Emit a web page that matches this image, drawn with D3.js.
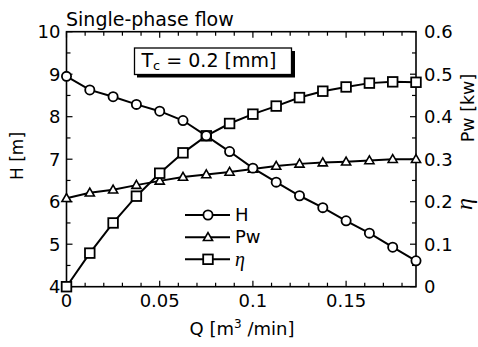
<!DOCTYPE html>
<html><head><meta charset="utf-8">
<script src="https://cdn.jsdelivr.net/npm/d3@7"></script>
<style>body{margin:0;background:#fff}svg{display:block;font-family:"DejaVu Sans",sans-serif}</style>
</head><body><svg id="c" width="478" height="347"></svg>
<script>
const Q = [0,0.0125,0.025,0.0375,0.05,0.0625,0.075,0.0875,0.1,0.1125,0.125,0.1375,0.15,0.1625,0.175,0.1875];
const H = [8.95,8.63,8.47,8.29,8.13,7.91,7.55,7.18,6.79,6.46,6.14,5.86,5.55,5.26,4.93,4.61];
const Pw = [0.208,0.221,0.228,0.239,0.249,0.258,0.264,0.27,0.277,0.284,0.289,0.292,0.294,0.297,0.3,0.3];
const eta = [0,0.079,0.15,0.213,0.267,0.315,0.355,0.384,0.406,0.425,0.445,0.46,0.47,0.479,0.482,0.481];
const xTicks = [0,0.05,0.1,0.15];
const yLeftTicks = [4,5,6,7,8,9,10];
const yRightTicks = [0,0.1,0.2,0.3,0.4,0.5,0.6];

const svg = d3.select("#c");
const L=66.5,R=416,T=31.7,B=286.7;
const x = d3.scaleLinear().domain([0,0.1875]).range([L,R]);
const yL = d3.scaleLinear().domain([4,10]).range([B,T]);
const yR = d3.scaleLinear().domain([0,0.6]).range([B,T]);

const g = svg.append("g");
g.append("rect").attr("x",L).attr("y",T).attr("width",R-L).attr("height",B-T).attr("fill","none").attr("stroke","#000").attr("stroke-width",1.6);

// ticks
d3.range(0,0.1876,0.01).forEach(v=>{
  const major = xTicks.some(t=>Math.abs(t-v)<1e-6);
  const len = major?6:4;
  g.append("line").attr("x1",x(v)).attr("x2",x(v)).attr("y1",B).attr("y2",B-len).attr("stroke","#000").attr("stroke-width",1.2);
  g.append("line").attr("x1",x(v)).attr("x2",x(v)).attr("y1",T).attr("y2",T+len).attr("stroke","#000").attr("stroke-width",1.2);
});
d3.range(4,10.01,0.5).forEach(v=>{
  const major = Math.abs(v-Math.round(v))<1e-6; const len=major?6:4;
  g.append("line").attr("x1",L).attr("x2",L+len).attr("y1",yL(v)).attr("y2",yL(v)).attr("stroke","#000").attr("stroke-width",1.2);
});
d3.range(0,0.601,0.05).forEach(v=>{
  const major = Math.abs(v*10-Math.round(v*10))<1e-6; const len=major?6:4;
  g.append("line").attr("x1",R).attr("x2",R-len).attr("y1",yR(v)).attr("y2",yR(v)).attr("stroke","#000").attr("stroke-width",1.2);
});

const fs = 18;
xTicks.forEach(v=>{
  g.append("text").attr("x",x(v)).attr("y",B+20).attr("text-anchor","middle").attr("font-size",fs).text(v===0?"0":String(v));
});
yLeftTicks.forEach(v=>{
  g.append("text").attr("x",L-6).attr("y",yL(v)+6.5).attr("text-anchor","end").attr("font-size",fs).text(v);
});
yRightTicks.forEach(v=>{
  g.append("text").attr("x",R+8).attr("y",yR(v)+6.5).attr("text-anchor","start").attr("font-size",fs).text(v===0?"0":d3.format(".1f")(v));
});

// axis labels
const xl = g.append("text").attr("x",242).attr("y",335).attr("text-anchor","middle").attr("font-size",18);
xl.append("tspan").text("Q [m");
xl.append("tspan").attr("dy",-7).attr("font-size",12).text("3");
xl.append("tspan").attr("dy",7).text(" /min]");
g.append("text").attr("transform","translate(23,156) rotate(-90)").attr("text-anchor","middle").attr("font-size",17).text("H [m]");
g.append("text").attr("transform","translate(474,108) rotate(-90)").attr("text-anchor","middle").attr("font-size",17.5).text("Pw [kw]");
g.append("text").attr("transform","translate(472,204) rotate(-90)").attr("text-anchor","middle").attr("font-size",24).attr("font-style","italic").attr("font-family","'Liberation Serif','DejaVu Serif',serif").text("η");

// title
g.append("text").attr("x",66).attr("y",26).attr("font-size",19).text("Single-phase flow");

// Tc box
g.append("rect").attr("x",137).attr("y",51).attr("width",158).attr("height",26.5).attr("fill","#000");
g.append("rect").attr("x",134.5).attr("y",48).attr("width",157).attr("height",26.5).attr("fill","#fff").attr("stroke","#000").attr("stroke-width",1.3);
const tc = g.append("text").attr("x",141.5).attr("y",67).attr("font-size",19);
tc.append("tspan").text("T");
tc.append("tspan").attr("dy",3).attr("font-size",13).text("c");
tc.append("tspan").attr("dy",-3).text(" = 0.2 [mm]");

// lines
const line = (ys,ysc)=>d3.line().x((d,i)=>x(Q[i])).y(d=>ysc(d))(ys);
[[H,yL],[Pw,yR],[eta,yR]].forEach(([s,sc])=>g.append("path").attr("d",line(s,sc)).attr("fill","none").attr("stroke","#000").attr("stroke-width",2));

const tri = d3.symbol().type(d3.symbolTriangle).size(36);
function circ(sel,cx,cy){sel.append("circle").attr("cx",cx).attr("cy",cy).attr("r",4.6).attr("fill","#fff").attr("stroke","#000").attr("stroke-width",1.8);}
function sq(sel,cx,cy){sel.append("rect").attr("x",cx-4.8).attr("y",cy-4.8).attr("width",9.6).attr("height",9.6).attr("fill","#fff").attr("stroke","#000").attr("stroke-width",1.8);}
function tr(sel,cx,cy){sel.append("path").attr("d",tri()).attr("transform",`translate(${cx},${cy+0.6})`).attr("fill","#fff").attr("stroke","#000").attr("stroke-width",1.6);}
Pw.forEach((v,i)=>tr(g,x(Q[i]),yR(v)));
eta.forEach((v,i)=>sq(g,x(Q[i]),yR(v)));
H.forEach((v,i)=>circ(g,x(Q[i]),yL(v)));

// legend
const leg = [["H",circ,false],["Pw",tr,false],["η",sq,true]];
const ly=[215,237.3,259.3];
leg.forEach((d,i)=>{
  g.append("line").attr("x1",185).attr("x2",230).attr("y1",ly[i]).attr("y2",ly[i]).attr("stroke","#000").attr("stroke-width",2);
  d[1](g,208,ly[i]);
  const t=g.append("text").attr("x",235).attr("y",ly[i]+6).attr("font-size",18).text(d[0]);
  if(d[2]) t.attr("font-size",20).attr("font-style","italic").attr("font-family","'Liberation Serif','DejaVu Serif',serif").attr("y",ly[i]+6.5);
});
</script></body></html>
